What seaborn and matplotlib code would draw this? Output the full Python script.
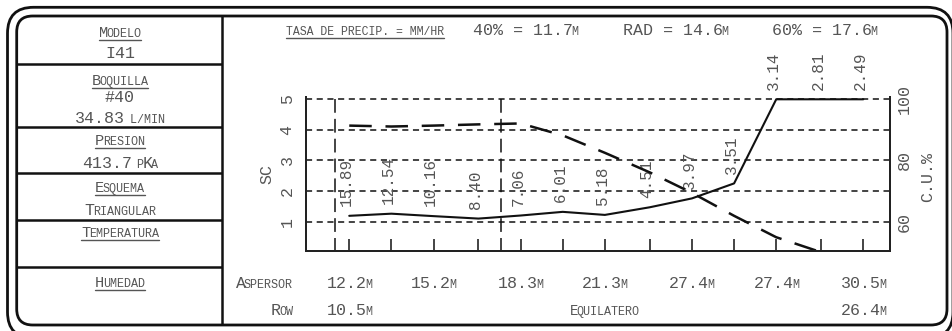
import matplotlib
matplotlib.use("Agg")
import matplotlib.pyplot as plt
import seaborn as sns
from matplotlib.patches import FancyBboxPatch
from matplotlib.transforms import IdentityTransform

# datos
spacing_m = [12.2, 13.7, 15.2, 16.8, 18.3, 19.8, 21.3, 22.9, 24.4, 25.9, 27.4, 29.0, 30.5]
precip_mmhr = [15.89, 12.54, 10.16, 8.40, 7.06, 6.01, 5.18, 4.51, 3.97, 3.51, 3.14, 2.81, 2.49]
sc_values = [1.19, 1.26, 1.18, 1.10, 1.20, 1.32, 1.22, 1.47, 1.76, 2.25, 5.0, 5.0, 5.0]
cu_values = [91.4, 91.1, 91.4, 91.8, 92.1, 88.2, 82.5, 76.1, 69.4, 61.9, 54.9, 50.0, 46.0]
sc_ticks = [1, 2, 3, 4, 5]
cu_ticks = [60, 80, 100]
pct40, radius, pct60 = 11.7, 14.6, 17.6
aspersor_m = [12.2, 15.2, 18.3, 21.3, 27.4, 27.4, 30.5]
row_m = [10.5, 26.4]

TXT = "#555555"
LN = "#111111"
BIG, SMALL = 12, 8.5
H = 331

sns.set_style("white")
plt.rcParams["font.family"] = ["Liberation Mono", "DejaVu Sans Mono"]

fig = plt.figure(figsize=(9.52, 3.31), dpi=100)
bg = fig.add_axes([0, 0, 1, 1])
bg.set_xlim(0, 952)
bg.set_ylim(H, 0)
bg.axis("off")


def marco(x0, y0, x1, y1, r):
    # rectangulo redondeado en pixeles (y hacia abajo como en la imagen)
    p = FancyBboxPatch((x0, H - y1), x1 - x0, y1 - y0,
                       boxstyle=f"round,pad=0,rounding_size={r}",
                       fill=False, lw=2.0, ec=LN, transform=IdentityTransform())
    fig.add_artist(p)


marco(7.5, 7.3, 953, 338, 26)
marco(16.7, 16, 947, 325, 16)

# tabla de la izquierda
bg.plot([221.7, 221.7], [16, 325], color=LN, lw=1.8, solid_capstyle="butt")
for yy in [64.3, 126.7, 173.3, 220, 267.3]:
    bg.plot([16.7, 221.7], [yy, yy], color=LN, lw=1.8, solid_capstyle="butt")

renderer = fig.canvas.get_renderer()
GAP = -1.5


def caps(x, y, parts, ha="center", underline=False):
    # texto en versalitas: trozos de distinto tamano uno detras de otro
    items = []
    for s, size in parts:
        t = bg.text(0, y, s, fontsize=size, color=TXT, ha="left", va="baseline")
        items.append((t, t.get_window_extent(renderer).width + GAP))
    total = sum(w for _, w in items) - GAP
    x0 = {"center": x - total / 2, "left": x, "right": x - total}[ha]
    start = x0
    for t, w in items:
        t.set_x(x0)
        x0 += w
    if underline:
        bg.plot([start, start + total], [y + 3.3, y + 3.3], color=TXT, lw=1.0)


def heading(word):
    return [(word[0], 11), (word[1:].upper(), SMALL)]


cx = 120
caps(cx, 36.7, heading("Modelo"), underline=True)
caps(cx, 58.3, [("I41", BIG)])
caps(cx, 85, heading("Boquilla"), underline=True)
caps(cx, 101.7, [("#40", BIG)])
caps(cx, 122.7, [("34.83", BIG), (" L/MIN", SMALL)])
caps(cx, 145, heading("Presion"), underline=True)
caps(cx, 168.3, [("413.7", BIG), (" P", SMALL), ("K", BIG), ("A", SMALL)])
caps(cx, 191.7, heading("Esquema"), underline=True)
caps(cx, 215, [("T", BIG), ("RIANGULAR", SMALL)])
caps(cx, 236.7, heading("Temperatura"), underline=True)
caps(cx, 286.7, heading("Humedad"), underline=True)

# grafica principal
ax = fig.add_axes([305.7 / 952, 80 / H, 584.3 / 952, 154 / H])
ax.patch.set_alpha(0)
ax2 = ax.twinx()

sc_lim = (0.04, 5.075)
ax.set_xlim(10.65, 31.45)
ax.set_ylim(*sc_lim)
ax2.set_ylim(50 + 10 * sc_lim[0], 50 + 10 * sc_lim[1])

ax.set_yticks(sc_ticks)
ax.set_yticklabels(sc_ticks, rotation=90, va="center")
ax.grid(axis="y", color=LN, lw=1.1, linestyle=(0, (4, 3)))
ax.grid(axis="x", visible=False)
ax.set_xticks(spacing_m)
ax.tick_params(axis="x", bottom=True, direction="in", length=8.6, width=1.1,
               color=LN, labelbottom=False)
ax.tick_params(axis="y", left=False, length=0, pad=8, labelsize=BIG, labelcolor=TXT)

ax2.set_yticks(cu_ticks)
ax2.set_yticklabels(cu_ticks, rotation=90, va="center")
ax2.tick_params(axis="y", right=False, length=0, pad=5, labelsize=BIG, labelcolor=TXT)

for a in (ax, ax2):
    a.spines["top"].set_visible(False)
    for s in ("left", "right", "bottom"):
        a.spines[s].set_linewidth(1.4)
        a.spines[s].set_color("#222222")

# lineas del 40% y 60%
ax.vlines([pct40, pct60], 5, sc_lim[0], color=LN, lw=1.1, linestyles=[(0, (9, 4))])

sns.lineplot(x=spacing_m, y=sc_values, ax=ax, color=LN, lw=1.5)
sns.lineplot(x=spacing_m, y=cu_values, ax=ax2, color=LN, lw=1.8, linestyle=(0, (9, 5.5)))

for xv, yv, p in zip(spacing_m, sc_values, precip_mmhr):
    ax.annotate(f"{p:.2f}", (xv, yv), xytext=(-2, 7), textcoords="offset points",
                rotation=90, ha="center", va="bottom", fontsize=11.5, color=TXT)

ax.set_ylabel("SC", fontsize=BIG, color=TXT)
ax.yaxis.set_label_coords(-0.053, 0.5)
ax2.set_ylabel("C.U.%", fontsize=BIG, color=TXT, rotation=90)
ax2.yaxis.set_label_coords(1.051, 0.48)

# textos de arriba
caps(286, 35, [("TASA DE PRECIP. = MM/HR", 8.3)], ha="left", underline=True)
for x0, lab, val in [(473, "40%", pct40), (623, "RAD", radius), (772, "60%", pct60)]:
    caps(x0, 35, [(f"{lab} = {val:.1f}", BIG), ("M", SMALL)], ha="left")


# filas de abajo
def px(xv):
    disp = ax.transData.transform((xv, 0))
    return bg.transData.inverted().transform(disp)[0]


caps(293, 288, [("A", BIG), ("SPERSOR", SMALL)], ha="right")
for xv, v in zip(spacing_m[::2], aspersor_m):
    caps(px(xv), 288, [(f"{v:.1f}", BIG), ("M", SMALL)])
caps(293, 315, [("R", BIG), ("OW", SMALL)], ha="right")
caps(px(spacing_m[0]), 315, [(f"{row_m[0]:.1f}", BIG), ("M", SMALL)])
caps(px(spacing_m[6]), 315, [("E", 10), ("QUILATERO", SMALL)])
caps(px(spacing_m[-1]), 315, [(f"{row_m[1]:.1f}", BIG), ("M", SMALL)])

fig.savefig("out.png", dpi=100)
